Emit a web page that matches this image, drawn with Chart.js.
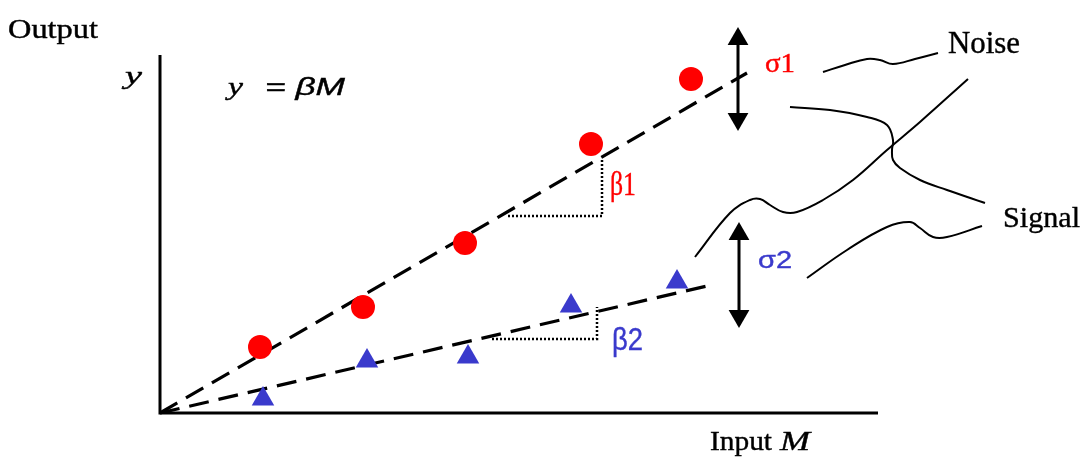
<!DOCTYPE html>
<html>
<head>
<meta charset="utf-8">
<script src="https://cdn.jsdelivr.net/npm/chart.js@4/dist/chart.umd.min.js"></script>
<style>
  html, body { margin: 0; padding: 0; background: #fff; }
  #wrap { width: 1084px; height: 461px; }
</style>
</head>
<body>
<div id="wrap"><canvas id="chart" width="1084" height="461"></canvas></div>
<script>
// measured points (input M, output y)
const redPoints = [
    { x: 1.00, y: 0.66 }, { x: 2.03, y: 1.06 }, { x: 3.05, y: 1.70 },
    { x: 4.31, y: 2.69 }, { x: 5.31, y: 3.34 }
];
const bluePoints = [
    { x: 1.03, y: 0.14 }, { x: 2.07, y: 0.52 }, { x: 3.08, y: 0.56 },
    { x: 4.11, y: 1.07 }, { x: 5.17, y: 1.31 }
];
// fitted lines y = beta * M
const fit1 = [{ x: 0, y: 0 }, { x: 5.87, y: 3.40 }];
const fit2 = [{ x: 0, y: 0 }, { x: 5.47, y: 1.27 }];
const beta1Step = [{ x: 3.48, y: 1.97 }, { x: 4.42, y: 1.97 }, { x: 4.42, y: 2.54 }];
const beta2Step = [{ x: 3.32, y: 0.74 }, { x: 4.37, y: 0.74 }, { x: 4.37, y: 1.06 }];
const axesLine = [{ x: 0, y: 3.58 }, { x: 0, y: 0 }, { x: 7.18, y: 0 }];

// spread arrows
const sigma1Shaft = [{ x: 5.78, y: 3.74 }, { x: 5.78, y: 2.94 }];
const sigma2Shaft = [{ x: 5.79, y: 1.79 }, { x: 5.79, y: 0.97 }];
const arrowHeads = [
    { x: 5.78, y: 3.74 }, { x: 5.78, y: 2.94 },
    { x: 5.79, y: 1.79 }, { x: 5.79, y: 0.97 }
];

// callout curves
const noiseTop = [
    { x: 6.63, y: 3.41 }, { x: 6.85, y: 3.48 }, { x: 7.07, y: 3.54 }, { x: 7.20, y: 3.53 },
    { x: 7.33, y: 3.49 }, { x: 7.55, y: 3.54 }, { x: 7.78, y: 3.60 }
];
const noiseCross = [
    { x: 8.08, y: 3.34 }, { x: 7.60, y: 2.91 }, { x: 7.27, y: 2.63 }, { x: 6.93, y: 2.33 },
    { x: 6.63, y: 2.13 }, { x: 6.37, y: 2.01 }, { x: 6.23, y: 2.01 }, { x: 6.10, y: 2.08 },
    { x: 6.00, y: 2.14 }, { x: 5.90, y: 2.13 }, { x: 5.70, y: 2.00 }, { x: 5.35, y: 1.56 }
];
const signalTop = [
    { x: 6.30, y: 3.06 }, { x: 6.70, y: 3.03 }, { x: 7.07, y: 2.96 }, { x: 7.27, y: 2.88 },
    { x: 7.33, y: 2.73 }, { x: 7.32, y: 2.63 }, { x: 7.33, y: 2.53 }, { x: 7.40, y: 2.45 },
    { x: 7.60, y: 2.33 }, { x: 7.87, y: 2.23 }, { x: 8.25, y: 2.10 }
];
const signalBottom = [
    { x: 6.47, y: 1.35 }, { x: 6.87, y: 1.63 }, { x: 7.27, y: 1.86 }, { x: 7.50, y: 1.91 },
    { x: 7.60, y: 1.85 }, { x: 7.73, y: 1.76 }, { x: 7.87, y: 1.76 }, { x: 8.22, y: 1.87 }
];

const RED = '#ff0000';
const BLUE = '#3a3acc';
const SERIF = '"Liberation Serif", "Times New Roman", serif';
const SANS = '"Liberation Sans", Arial, sans-serif';

// text labels: anchor is left/baseline, w is the width it should fill
const labels = [
    { text: 'Output', x: -1.52, y: 3.75, font: '28px ' + SERIF, w: 90, color: '#000' },
    { text: 'y', x: -0.35, y: 3.29, font: 'italic 26px ' + SERIF, w: 17, color: '#000' },
    { text: 'y', x: 0.68, y: 3.18, font: 'italic 26px ' + SERIF, w: 15, color: '#000' },
    { text: '= \u03b2M', x: 1.05, y: 3.18, font: 'italic 24px ' + SANS, w: 80, color: '#000' },
    { text: '\u03c31', x: 6.05, y: 3.41, font: '28px ' + SERIF, w: 30, color: RED },
    { text: 'Noise', x: 7.88, y: 3.60, font: '31px ' + SERIF, w: 72, color: '#000' },
    { text: '\u03b21', x: 4.50, y: 2.18, font: '34px ' + SERIF, w: 26, color: RED },
    { text: '\u03b22', x: 4.52, y: 0.63, font: '32px ' + SANS, w: 31, color: BLUE },
    { text: '\u03c32', x: 5.98, y: 1.45, font: '23px ' + SANS, w: 34, color: BLUE },
    { text: 'Signal', x: 8.43, y: 1.86, font: '30px ' + SERIF, w: 77, color: '#000' },
    { text: 'Input', x: 5.50, y: -0.37, font: '28px ' + SERIF, w: 62, color: '#000' },
    { text: 'M', x: 6.20, y: -0.37, font: 'italic 28px ' + SERIF, w: 30, color: '#000' }
];

const textPlugin = {
    id: 'textLabels',
    afterDatasetsDraw(chart) {
        const { ctx, scales } = chart;
        labels.forEach(l => {
            const px = scales.x.getPixelForValue(l.x);
            const py = scales.y.getPixelForValue(l.y);
            ctx.save();
            ctx.font = l.font;
            ctx.fillStyle = l.color;
            ctx.strokeStyle = l.color;
            ctx.lineWidth = 0.4;
            ctx.textAlign = 'left';
            ctx.textBaseline = 'alphabetic';
            const mw = ctx.measureText(l.text).width;
            ctx.translate(px, py);
            ctx.scale(l.w / mw, 1);
            ctx.fillText(l.text, 0, 0);
            ctx.strokeText(l.text, 0, 0); // slightly heavier, like the scanned figure
            ctx.restore();
        });
    }
};

function lineSet(data, opts) {
    return Object.assign({
        type: 'line',
        data: data,
        borderColor: '#000',
        borderWidth: 2,
        pointRadius: 0,
        fill: false,
        tension: 0
    }, opts);
}

new Chart(document.getElementById('chart').getContext('2d'), {
    type: 'scatter',
    data: {
        datasets: [
            {
                label: 'Red',
                data: redPoints,
                pointStyle: 'circle',
                pointRadius: 12,
                backgroundColor: RED,
                borderColor: RED,
                borderWidth: 0
            },
            {
                label: 'Blue',
                data: bluePoints,
                pointStyle: 'triangle',
                pointRadius: 13,
                backgroundColor: BLUE,
                borderColor: BLUE,
                borderWidth: 0
            },
            {
                label: 'Arrow heads',
                data: arrowHeads,
                pointStyle: 'triangle',
                pointRadius: 12,
                rotation: [0, 180, 0, 180],
                backgroundColor: '#000',
                borderColor: '#000',
                borderWidth: 0
            },
            lineSet(fit1, { label: 'Fit 1', borderWidth: 3.2, borderDash: [20, 10] }),
            lineSet(fit2, { label: 'Fit 2', borderWidth: 3.2, borderDash: [20, 10] }),
            lineSet(beta1Step, { label: 'Beta1', borderWidth: 2.5, borderDash: [2, 2] }),
            lineSet(beta2Step, { label: 'Beta2', borderWidth: 2.5, borderDash: [2, 2] }),
            lineSet(axesLine, { label: 'Axes', borderWidth: 3 }),
            lineSet(sigma1Shaft, { label: 'Sigma1', borderWidth: 3 }),
            lineSet(sigma2Shaft, { label: 'Sigma2', borderWidth: 3 }),
            lineSet(noiseTop, { label: 'Noise top', tension: 0.4 }),
            lineSet(noiseCross, { label: 'Noise cross', tension: 0.4 }),
            lineSet(signalTop, { label: 'Signal top', tension: 0.4 }),
            lineSet(signalBottom, { label: 'Signal bottom', tension: 0.4 })
        ]
    },
    options: {
        responsive: false,
        animation: false,
        layout: { padding: 0, autoPadding: false },
        scales: {
            x: { type: 'linear', min: -1.6, max: 9.24, display: false },
            y: { type: 'linear', min: -0.48, max: 4.13, display: false }
        },
        plugins: {
            legend: { display: false },
            tooltip: { enabled: false }
        }
    },
    plugins: [textPlugin]
});
</script>
</body>
</html>
